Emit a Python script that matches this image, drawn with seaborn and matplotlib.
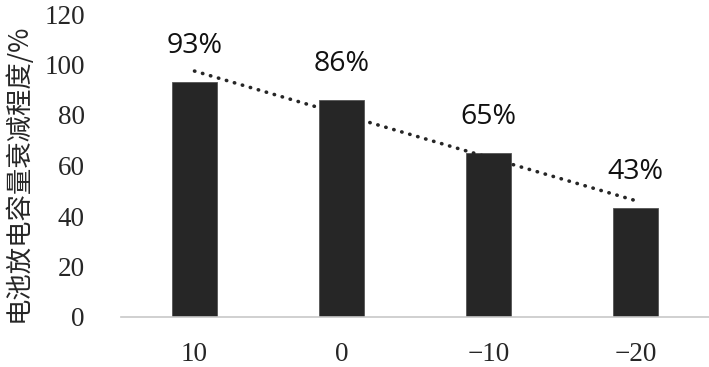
import numpy as np
import pandas as pd
import matplotlib
matplotlib.use('Agg')
import matplotlib.pyplot as plt
import seaborn as sns

# Data
temps = ['10', '0', '−10', '−20']
capacity = [93, 86, 65, 43]
pct_labels = ['93%', '86%', '65%', '43%']

df = pd.DataFrame({'temp': temps, 'capacity': capacity})

sns.set_style('white')
plt.rcParams['font.family'] = ['Liberation Serif', 'DejaVu Serif']

fig = plt.figure(figsize=(7.09, 3.67), dpi=100)
ax = fig.add_axes([121 / 709, 1 - 317 / 367, (709 - 121) / 709, (317 - 14) / 367])

sns.barplot(data=df, x='temp', y='capacity', order=temps, color='#262626',
            width=0.31, edgecolor='#555555', linewidth=0.6, saturation=1, ax=ax)

# Linear trend line (fit of the bar values)
xs = np.arange(len(capacity))
k, b = np.polyfit(xs, capacity, 1)
ax.plot(xs, k * xs + b, color='#262626', linewidth=2.6,
        linestyle=(0, (0.1, 2.2)), dash_capstyle='round', solid_capstyle='round')

for i, (v, lab) in enumerate(zip(capacity, pct_labels)):
    ax.annotate(lab, (i, v), xytext=(0, 26), textcoords='offset points',
                ha='center', va='center', fontsize=20.5, family=['Open Sans', 'DejaVu Sans'],
                color='#111111')

ax.set_ylim(0, 120)
ax.set_xlim(-0.5, 3.5)
ax.set_yticks(range(0, 121, 20))
ax.set_xlabel('')
ax.set_ylabel('电池放电容量衰减程度/%', family=['Noto Sans CJK SC', 'DejaVu Sans'],
              fontsize=19)
ax.yaxis.label.set_va('center')
ax.yaxis.set_label_coords(-0.176, 0.475)
ax.tick_params(axis='y', length=0, pad=26, labelsize=19.5)
ax.tick_params(axis='x', length=0, pad=18, labelsize=19.5)
for s in ['top', 'right', 'left']:
    ax.spines[s].set_visible(False)
ax.spines['bottom'].set_color('#c8c8c8')
ax.spines['bottom'].set_linewidth(1.2)

fig.savefig('out.png', dpi=100)
